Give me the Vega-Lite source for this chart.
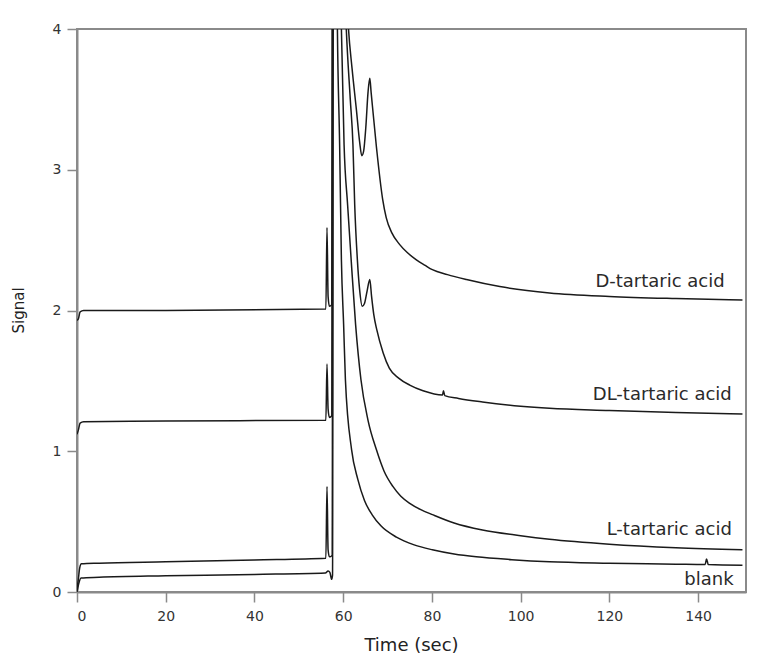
{
  "$schema": "https://vega.github.io/schema/vega-lite/v6.json",
  "width": 669,
  "height": 563,
  "autosize": {"type": "none"},
  "padding": {"left": 77, "top": 29, "right": 23, "bottom": 61},
  "background": "white",
  "config": {
    "view": {"stroke": "#8a8a8a", "strokeWidth": 2},
    "axis": {
      "grid": false,
      "domainColor": "#8a8a8a",
      "domainWidth": 2,
      "tickColor": "#8a8a8a",
      "tickWidth": 1.5,
      "tickSize": 10,
      "labelColor": "#333333",
      "labelFont": "DejaVu Sans",
      "labelFontSize": 14,
      "titleFont": "DejaVu Sans",
      "titleFontWeight": "normal",
      "titleColor": "#222222"
    }
  },
  "datasets": {
    "traces": [
      {"series": "blank", "t": 0, "s": 0.0}, {"series": "blank", "t": 0.4, "s": 0.06}, {"series": "blank", "t": 0.9, "s": 0.10}, {"series": "blank", "t": 5, "s": 0.105}, {"series": "blank", "t": 20, "s": 0.115}, {"series": "blank", "t": 40, "s": 0.125}, {"series": "blank", "t": 56, "s": 0.135}, {"series": "blank", "t": 56.6, "s": 0.15}, {"series": "blank", "t": 57.0, "s": 0.14}, {"series": "blank", "t": 57.4, "s": 0.09}, {"series": "blank", "t": 57.6, "s": 0.12}, {"series": "blank", "t": 57.9, "s": 8}, {"series": "blank", "t": 58.7, "s": 4.0}, {"series": "blank", "t": 59.2, "s": 3.18}, {"series": "blank", "t": 59.6, "s": 2.36}, {"series": "blank", "t": 60.1, "s": 1.9}, {"series": "blank", "t": 60.5, "s": 1.51}, {"series": "blank", "t": 61.9, "s": 1.01}, {"series": "blank", "t": 63.3, "s": 0.8}, {"series": "blank", "t": 64.8, "s": 0.65}, {"series": "blank", "t": 66.5, "s": 0.55}, {"series": "blank", "t": 68.5, "s": 0.47}, {"series": "blank", "t": 72, "s": 0.39}, {"series": "blank", "t": 76, "s": 0.335}, {"series": "blank", "t": 80.1, "s": 0.30}, {"series": "blank", "t": 85, "s": 0.27}, {"series": "blank", "t": 90, "s": 0.25}, {"series": "blank", "t": 98, "s": 0.23}, {"series": "blank", "t": 106.5, "s": 0.215}, {"series": "blank", "t": 120, "s": 0.205}, {"series": "blank", "t": 135, "s": 0.198}, {"series": "blank", "t": 141.6, "s": 0.195}, {"series": "blank", "t": 141.9, "s": 0.235}, {"series": "blank", "t": 142.3, "s": 0.195}, {"series": "blank", "t": 150, "s": 0.19},

      {"series": "L", "t": 0, "s": 0.02}, {"series": "L", "t": 0.3, "s": 0.09}, {"series": "L", "t": 0.6, "s": 0.17}, {"series": "L", "t": 1.0, "s": 0.2}, {"series": "L", "t": 5, "s": 0.205}, {"series": "L", "t": 20, "s": 0.215}, {"series": "L", "t": 40, "s": 0.228}, {"series": "L", "t": 56.1, "s": 0.24}, {"series": "L", "t": 56.35, "s": 0.75}, {"series": "L", "t": 56.6, "s": 0.3}, {"series": "L", "t": 56.9, "s": 0.25}, {"series": "L", "t": 57.5, "s": 0.26}, {"series": "L", "t": 57.8, "s": 8}, {"series": "L", "t": 59.6, "s": 4.0}, {"series": "L", "t": 60.2, "s": 3.18}, {"series": "L", "t": 61.0, "s": 2.75}, {"series": "L", "t": 61.8, "s": 2.36}, {"series": "L", "t": 62.8, "s": 1.9}, {"series": "L", "t": 64.0, "s": 1.51}, {"series": "L", "t": 65.6, "s": 1.22}, {"series": "L", "t": 67.5, "s": 1.01}, {"series": "L", "t": 69.2, "s": 0.86}, {"series": "L", "t": 71.2, "s": 0.75}, {"series": "L", "t": 73, "s": 0.68}, {"series": "L", "t": 75, "s": 0.63}, {"series": "L", "t": 77.5, "s": 0.585}, {"series": "L", "t": 80.1, "s": 0.55}, {"series": "L", "t": 85, "s": 0.49}, {"series": "L", "t": 91.4, "s": 0.44}, {"series": "L", "t": 100, "s": 0.40}, {"series": "L", "t": 106.5, "s": 0.375}, {"series": "L", "t": 120, "s": 0.34}, {"series": "L", "t": 135, "s": 0.315}, {"series": "L", "t": 150, "s": 0.30},

      {"series": "DL", "t": 0, "s": 1.12}, {"series": "DL", "t": 0.3, "s": 1.15}, {"series": "DL", "t": 0.7, "s": 1.2}, {"series": "DL", "t": 1.5, "s": 1.21}, {"series": "DL", "t": 20, "s": 1.215}, {"series": "DL", "t": 56.1, "s": 1.22}, {"series": "DL", "t": 56.35, "s": 1.62}, {"series": "DL", "t": 56.6, "s": 1.3}, {"series": "DL", "t": 56.9, "s": 1.24}, {"series": "DL", "t": 57.4, "s": 1.25}, {"series": "DL", "t": 57.75, "s": 8}, {"series": "DL", "t": 60.7, "s": 4.0}, {"series": "DL", "t": 61.6, "s": 3.5}, {"series": "DL", "t": 62.2, "s": 3.18}, {"series": "DL", "t": 62.6, "s": 2.75}, {"series": "DL", "t": 63.2, "s": 2.36}, {"series": "DL", "t": 63.7, "s": 2.15}, {"series": "DL", "t": 64.3, "s": 2.03}, {"series": "DL", "t": 64.8, "s": 2.05}, {"series": "DL", "t": 65.4, "s": 2.14}, {"series": "DL", "t": 66.0, "s": 2.22}, {"series": "DL", "t": 66.4, "s": 2.1}, {"series": "DL", "t": 66.9, "s": 1.97}, {"series": "DL", "t": 67.6, "s": 1.86}, {"series": "DL", "t": 69, "s": 1.70}, {"series": "DL", "t": 70.4, "s": 1.59}, {"series": "DL", "t": 72.5, "s": 1.52}, {"series": "DL", "t": 75, "s": 1.47}, {"series": "DL", "t": 78, "s": 1.43}, {"series": "DL", "t": 82.4, "s": 1.40}, {"series": "DL", "t": 82.6, "s": 1.43}, {"series": "DL", "t": 82.9, "s": 1.395}, {"series": "DL", "t": 86, "s": 1.375}, {"series": "DL", "t": 91.4, "s": 1.35}, {"series": "DL", "t": 100, "s": 1.32}, {"series": "DL", "t": 106.5, "s": 1.305}, {"series": "DL", "t": 120, "s": 1.29}, {"series": "DL", "t": 135, "s": 1.275}, {"series": "DL", "t": 150, "s": 1.265},

      {"series": "D", "t": 0, "s": 1.93}, {"series": "D", "t": 0.3, "s": 1.94}, {"series": "D", "t": 0.7, "s": 1.99}, {"series": "D", "t": 1.5, "s": 2.0}, {"series": "D", "t": 20, "s": 2.0}, {"series": "D", "t": 56.1, "s": 2.01}, {"series": "D", "t": 56.35, "s": 2.59}, {"series": "D", "t": 56.6, "s": 2.1}, {"series": "D", "t": 56.9, "s": 2.03}, {"series": "D", "t": 57.4, "s": 2.04}, {"series": "D", "t": 57.8, "s": 8}, {"series": "D", "t": 61.2, "s": 4.0}, {"series": "D", "t": 62.0, "s": 3.72}, {"series": "D", "t": 63.0, "s": 3.42}, {"series": "D", "t": 63.7, "s": 3.2}, {"series": "D", "t": 64.2, "s": 3.10}, {"series": "D", "t": 64.6, "s": 3.13}, {"series": "D", "t": 65.1, "s": 3.3}, {"series": "D", "t": 65.6, "s": 3.55}, {"series": "D", "t": 66.0, "s": 3.65}, {"series": "D", "t": 66.3, "s": 3.55}, {"series": "D", "t": 67.5, "s": 3.16}, {"series": "D", "t": 68.9, "s": 2.79}, {"series": "D", "t": 69.7, "s": 2.66}, {"series": "D", "t": 71, "s": 2.55}, {"series": "D", "t": 72.7, "s": 2.47}, {"series": "D", "t": 74.5, "s": 2.41}, {"series": "D", "t": 76.5, "s": 2.36}, {"series": "D", "t": 78.5, "s": 2.32}, {"series": "D", "t": 80.1, "s": 2.29}, {"series": "D", "t": 83.5, "s": 2.255}, {"series": "D", "t": 87.8, "s": 2.22}, {"series": "D", "t": 95.3, "s": 2.17}, {"series": "D", "t": 106.5, "s": 2.125}, {"series": "D", "t": 120, "s": 2.10}, {"series": "D", "t": 135, "s": 2.085}, {"series": "D", "t": 150, "s": 2.075}
    ],
    "labels": [
      {"label": "D-tartaric acid", "t": 146.0, "s": 2.2},
      {"label": "DL-tartaric acid", "t": 147.6, "s": 1.40},
      {"label": "L-tartaric acid", "t": 147.6, "s": 0.44},
      {"label": "blank", "t": 148.0, "s": 0.085}
    ]
  },
  "layer": [
    {
      "data": {"name": "traces"},
      "mark": {"type": "line", "clip": true, "color": "#1a1a1a", "strokeWidth": 1.5, "interpolate": "monotone"},
      "encoding": {
        "x": {
          "field": "t", "type": "quantitative",
          "scale": {"domain": [0, 150.8], "nice": false, "zero": false},
          "axis": {"title": "Time (sec)", "values": [0, 20, 40, 60, 80, 100, 120, 140], "labelPadding": 7, "labelFontSize": 14, "titleFontSize": 18, "titleX": 334, "titleY": 53, "titleBaseline": "middle", "titleAlign": "center"}
        },
        "y": {
          "field": "s", "type": "quantitative",
          "scale": {"domain": [0, 4], "nice": false},
          "axis": {"title": "Signal", "values": [0, 1, 2, 3, 4], "format": "d", "labelPadding": 6, "labelFontSize": 14, "titleFontSize": 15, "titleX": -59, "titleY": 281, "titleAngle": -90, "titleBaseline": "middle", "titleAlign": "center"}
        },
        "detail": {"field": "series", "type": "nominal"}
      }
    },
    {
      "data": {"name": "labels"},
      "mark": {"type": "text", "align": "right", "baseline": "middle", "font": "DejaVu Sans", "fontSize": 18, "color": "#2a2a2a"},
      "encoding": {
        "x": {"field": "t", "type": "quantitative"},
        "y": {"field": "s", "type": "quantitative"},
        "text": {"field": "label", "type": "nominal"}
      }
    }
  ]
}
